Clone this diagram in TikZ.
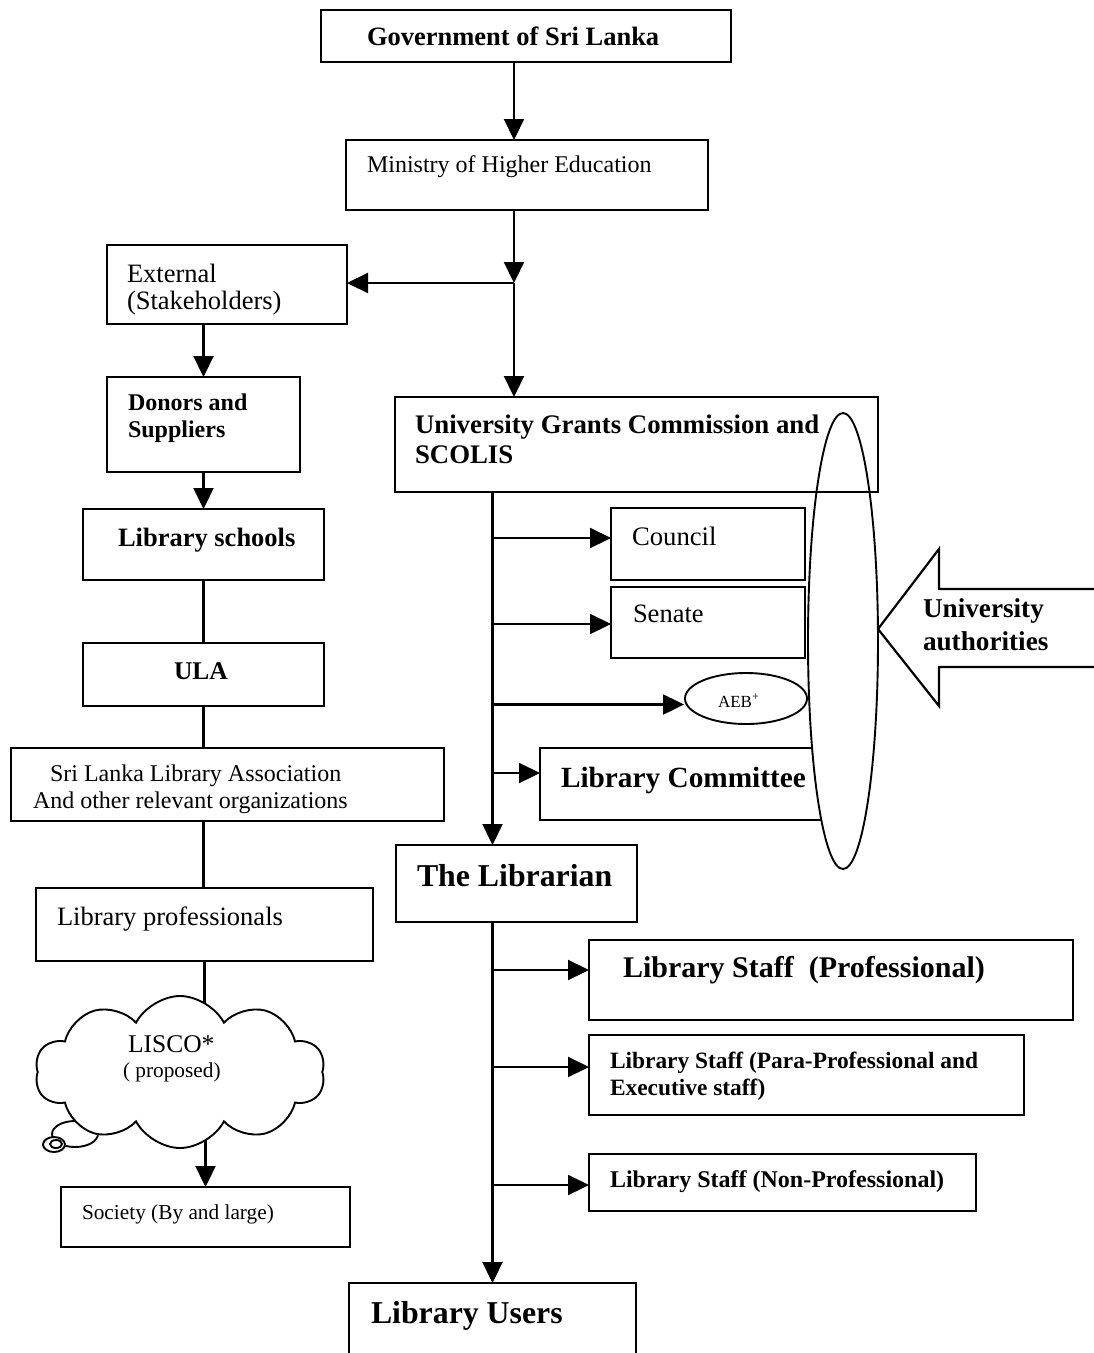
\documentclass[tikz,border=0pt]{standalone}
\usepackage{fontspec}
\setmainfont{Liberation Serif}
\usetikzlibrary{arrows.meta,shapes.geometric,shapes.symbols,calc}
\newcommand{\fs}[1]{\fontsize{#1}{#1}\selectfont}
\newcommand{\mkbox}[5]{\node[box, minimum width={(#4)-(#2)}, minimum height={(#5)-(#3)}] (#1) at ({((#2)+(#4))/2},{((#3)+(#5))/2}) {};}
\begin{document}
\begin{tikzpicture}[x=1pt,y=-1pt,
  box/.style={draw, line width=2.2pt, inner sep=0pt, outer sep=0pt},
  arr/.style={line width=2.2pt, -{Triangle[length=21pt,width=20pt]}},
  ln/.style={line width=2.2pt},
  thin/.style={line width=1.9pt},
  txt/.style={anchor=base west, inner sep=0pt, outer sep=0pt},
]
\useasboundingbox (0,0) rectangle (1094,1353);
\clip (0,0) rectangle (1094,1353);

% boxes
\mkbox{gov}{321}{10}{731}{62}
\mkbox{min}{346}{140}{708}{210}
\mkbox{ext}{107}{245}{347}{324}
\mkbox{don}{107}{377}{300}{472}
\mkbox{ls}{83}{509}{324}{580}
\mkbox{ula}{83}{643}{324}{706}
\mkbox{slla}{11}{748}{444}{821}
\mkbox{lp}{36}{888}{373}{961}
\mkbox{soc}{61}{1187}{350}{1247}
\mkbox{cou}{611}{508}{805}{580}
\mkbox{sen}{611}{587}{805}{658}
\mkbox{lc}{540}{748}{860}{820}
\mkbox{lib}{396}{845}{637}{922}
\mkbox{sp}{589}{940}{1073}{1020}
\mkbox{pp}{589}{1035}{1024}{1115}
\mkbox{np}{589}{1154}{976}{1211}
\mkbox{usr}{349}{1283}{636}{1370}

% big ellipse of university authorities
\node[draw, thin, ellipse, fill=white, minimum width=70pt, minimum height=456pt, inner sep=0pt] (auth) at (843,641) {};
\mkbox{ugc}{395}{397}{878}{492}
\node[draw, thin, ellipse, fill=white, minimum width=122pt, minimum height=51pt, inner sep=0pt] (aeb) at (746,698.5) {};

% block arrow
\draw[ln, fill=white] (1100,589) -- (939,589) -- (939,549) -- (878,629) -- (939,706) -- (939,667) -- (1100,667);

% top connectors
\coordinate (j) at (514,283);
\draw[arr] (gov.south -| j) -- (min.north -| j);
\draw[arr] (min.south -| j) -- (j);
\draw[arr] (j) -- (ugc.north -| j);
\draw[arr] (j) -- (ext.east |- j);

% left column
\draw[arr] (ext.south -| don.north) -- (don.north);
\draw[arr] (don.south) -- (ls.north);
\draw[ln] (ls.south) -- (ula.north);
\draw[ln] (ula.south) -- (slla.north -| ula.south);
\draw[ln] (slla.south -| ula.south) -- (lp.north -| ula.south);
\coordinate (cc) at (180,1072);
\draw[ln] (lp.south) -- (cc -| lp.south);
\draw[arr] (cc -| soc.north) -- (soc.north);
\node[draw, thin, ellipse, fill=white, minimum width=46pt, minimum height=26pt, inner sep=0pt] (b1) at (75,1134) {};
\node[draw, thin, cloud, cloud puffs=10, cloud puff arc=125, fill=white, minimum width=290pt, minimum height=152pt, inner sep=0pt] (cloud) at (cc) {};
\node[draw, thin, ellipse, fill=white, minimum width=22pt, minimum height=15pt, inner sep=0pt] (b2) at (54,1144.5) {};
\node[draw, thin, ellipse, minimum width=12pt, minimum height=8pt, inner sep=0pt] (b3) at (56,1144) {};

% right column
\coordinate (v1) at (ugc.south -| usr.north);
\draw[arr] (v1) -- (lib.north -| v1);
\coordinate (cw) at ([yshift=6pt]cou.west);
\coordinate (sw) at ([yshift=-1.5pt]sen.west);
\coordinate (aw) at ([yshift=-6pt]aeb.west);
\coordinate (lw) at ([yshift=11pt]lc.west);
\draw[arr] (cw -| v1) -- (cw);
\draw[arr] (sw -| v1) -- (sw);
\draw[arr] (aw -| v1) -- (aw);
\draw[arr] (lw -| v1) -- (lw);
\coordinate (v2) at (lib.south -| usr.north);
\draw[arr] (v2) -- (usr.north);
\coordinate (spw) at ([yshift=10pt]sp.west);
\coordinate (ppw) at ([yshift=8pt]pp.west);
\coordinate (npw) at ([yshift=-2.5pt]np.west);
\draw[arr] (spw -| v2) -- (spw);
\draw[arr] (ppw -| v2) -- (ppw);
\draw[arr] (npw -| v2) -- (npw);

% texts
\node[txt, font=\bfseries\fs{26.5}] (tgov) at (367,45) {Government of Sri Lanka};
\node[txt, font=\fs{24}] (tmin) at (367,172) {Ministry of Higher Education};
\node[txt, font=\fs{26.5}] (text1) at (127,282) {External};
\node[txt, font=\fs{26.5}] (text2) at (127,309) {(Stakeholders)};
\node[txt, font=\bfseries\fs{24}] (tdon1) at (128,410) {Donors and};
\node[txt, font=\bfseries\fs{24}] (tdon2) at (128,437) {Suppliers};
\node[txt, font=\bfseries\fs{26.5}] (tls) at (118,546) {Library schools};
\node[txt, font=\bfseries\fs{25.5}] (tula) at (174,679) {ULA};
\node[txt, font=\fs{24}] (tsl1) at (50,781) {Sri Lanka Library Association};
\node[txt, font=\fs{24}] (tsl2) at (33,808) {And other relevant organizations};
\node[txt, font=\fs{26.5}] (tlp) at (57,925) {Library professionals};
\node[txt, font=\fs{25.5}] (tlis1) at (128,1052) {LISCO*};
\node[txt, font=\fs{21.3}] (tlis2) at (123,1077) {( proposed)};
\node[txt, font=\fs{21.3}] (tsoc) at (82,1219) {Society (By and large)};
\node[txt, font=\bfseries\fs{26.8}] (tugc1) at (415,433) {University Grants Commission and};
\node[txt, font=\bfseries\fs{26.8}] (tugc2) at (415,463) {SCOLIS};
\node[txt, font=\fs{26.7}] (tcou) at (632,545) {Council};
\node[txt, font=\fs{26.5}] (tsen) at (633,622) {Senate};
\node[txt, font=\fs{17}] (taeb) at (718,707) {AEB\textsuperscript{+}};
\node[txt, font=\bfseries\fs{29.3}] (tlc) at (561,787) {Library Committee};
\node[txt, font=\bfseries\fs{27.2}] (tua1) at (923,617) {University};
\node[txt, font=\bfseries\fs{27.2}] (tua2) at (923,650) {authorities};
\node[txt, font=\bfseries\fs{31.8}] (tlib) at (417,886) {The Librarian};
\node[txt, font=\bfseries\fs{30}] (tsp) at (623,977) {Library Staff\ \ (Professional)};
\node[txt, font=\bfseries\fs{23.4}] (tpp1) at (610,1068) {Library Staff (Para-Professional and};
\node[txt, font=\bfseries\fs{23.4}] (tpp2) at (610,1095) {Executive staff)};
\node[txt, font=\bfseries\fs{24}] (tnp) at (610,1187) {Library Staff (Non-Professional)};
\node[txt, font=\bfseries\fs{31.8}] (tusr) at (371,1323) {Library Users};
\end{tikzpicture}
\end{document}
